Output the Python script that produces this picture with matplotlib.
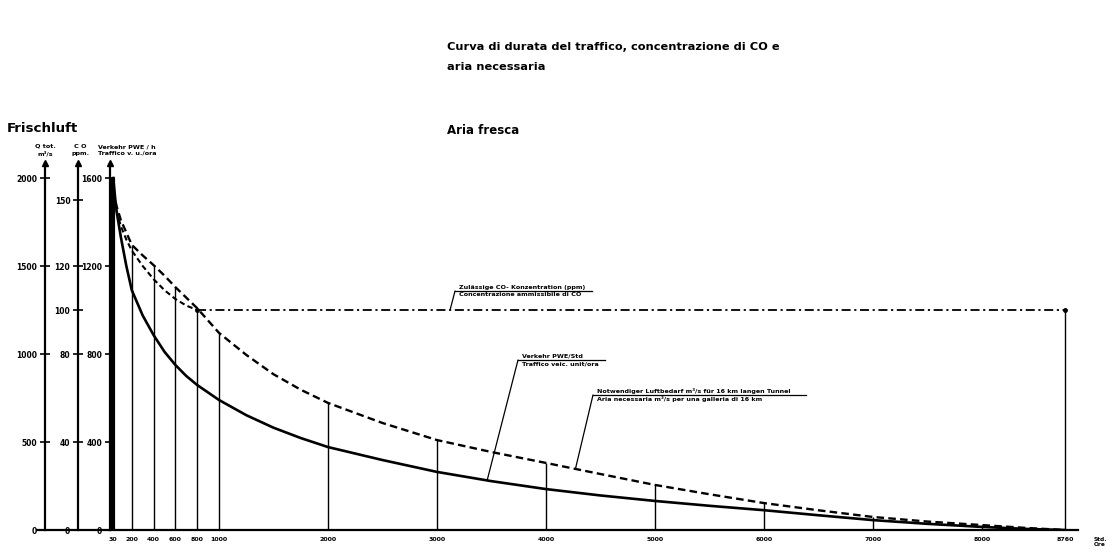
import matplotlib.pyplot as plt
import numpy as np
from matplotlib.lines import Line2D
from matplotlib.patches import ConnectionPatch

plt.rcParams['font.family'] = ['DejaVu Sans']
plt.rcParams['font.weight'] = 'bold'

# Traffic duration curve (vehicle units per hour)
hours_traffic = [30, 45, 60, 100, 150, 200, 300, 400, 500, 600, 700, 800, 1000,
                 1250, 1500, 1750, 2000, 2500, 3000, 3500, 4000, 4500, 5000,
                 5500, 6000, 6500, 7000, 7500, 8000, 8400, 8760]
traffic = [1600, 1520, 1450, 1330, 1200, 1090, 975, 886, 810, 750, 700, 659, 591,
           522, 465, 418, 377, 318, 264, 222, 186, 157, 132,
           110, 90, 67, 45, 28, 14, 5, 0]

# Fresh air needed, m3/s, for a 16 km tunnel
hours_air = [30, 60, 100, 150, 200, 300, 400, 500, 600, 700, 800, 900, 1000,
             1250, 1500, 1750, 2000, 2500, 3000, 3500, 4000, 4500, 5000,
             5500, 6000, 6500, 7000, 7500, 8000, 8400, 8760]
air = [1930, 1840, 1760, 1690, 1620, 1560, 1505, 1445, 1380, 1320, 1260, 1190, 1120,
       995, 885, 797, 722, 608, 511, 443, 381, 318, 256,
       203, 153, 112, 74, 48, 28, 12, 0]

# CO concentration (ppm) and permissible limit
hours_co = [-110, 30, 60, 100, 150, 200, 300, 400, 500, 600, 700, 800]
co = [150, 150, 145, 138, 132, 127, 120, 114, 109, 105, 102, 100]
hours_limit = [800, 8760]
co_limit = [100, 100]

hours_drop = [200, 400, 600, 800, 1000, 2000, 3000, 4000, 5000, 6000, 7000, 8000]
x_ticks = [30, 200, 400, 600, 800, 1000, 2000, 3000, 4000, 5000, 6000, 7000, 8000, 8760]
traffic_ticks = [0, 400, 800, 1200, 1600]
co_ticks = [0, 40, 80, 100, 120, 150]
air_ticks = [0, 500, 1000, 1500, 2000]

W, H = 1116, 556
fig = plt.figure(figsize=(W / 100, H / 100), dpi=100)

# axes box in pixels of the picture
left, right, top, bottom = 110, 1078, 163, 530
ax = fig.add_axes([left / W, 1 - bottom / H, (right - left) / W, (bottom - top) / H])
ax.patch.set_visible(False)
x_max = (right - left) / 0.109
y_max = (bottom - top) / 0.22
ax.set_xlim(0, x_max)
ax.set_ylim(0, y_max)

ax_co = ax.twinx()
ax_air = ax.twinx()
ax_co.set_ylim(0, y_max / 10)
ax_air.set_ylim(0, y_max * 1.25)

pos_co = (78 - left) / (right - left)
pos_air = (45 - left) / (right - left)

for a in (ax, ax_co, ax_air):
    for s in ('top', 'right'):
        a.spines[s].set_visible(False)
    a.spines['left'].set_linewidth(1.6)
for a, p in ((ax_co, pos_co), (ax_air, pos_air)):
    a.spines['left'].set_visible(True)
    a.spines['left'].set_position(('axes', p))
    a.spines['bottom'].set_visible(False)
    a.yaxis.set_ticks_position('left')
ax.spines['bottom'].set_linewidth(1.6)

ax.set_yticks(traffic_ticks)
ax_co.set_yticks(co_ticks)
ax_air.set_yticks(air_ticks)
for a in (ax, ax_co, ax_air):
    a.tick_params(axis='y', direction='inout', length=7, width=1.2, pad=2,
                  labelsize=5.5)
ax.set_xticks(x_ticks)
ax.tick_params(axis='x', length=0, pad=5, labelsize=4.5)

# baseline continues through the left scales, arrows on top of each scale
ax.plot([pos_air - 0.008, 0], [0, 0], color='black', lw=1.6,
        transform=ax.transAxes, clip_on=False)
for p in (0, pos_co, pos_air):
    ax.plot(p, 1, marker='^', color='black', markersize=4,
            transform=ax.transAxes, clip_on=False)

# curves
ax.plot(hours_traffic, traffic, color='black', lw=1.9)
ax_air.plot(hours_air, air, color='black', lw=1.7, linestyle=(0, (3.2, 1.8)))
ax_co.plot(hours_co, co, color='black', lw=1.5, linestyle=(0, (2.6, 1.6)))
ax_co.plot(hours_limit, co_limit, color='black', lw=1.3,
           linestyle=(0, (5, 2, 1.2, 2)), marker='o', markersize=2.5)

# drop lines
air_at = dict(zip(hours_air, air))
ax_air.vlines(hours_drop, 0, [air_at[h] for h in hours_drop], color='black', lw=1.0)
ax.vlines(hours_traffic[0], 0, traffic[0], color='black', lw=3.0)
ax_co.vlines(hours_limit[-1], 0, co_limit[-1], color='black', lw=1.0)

# titles
fig.text(447 / W, 1 - 47 / H, 'Curva di durata del traffico, concentrazione di CO e',
         fontsize=8.2, va='center')
fig.text(447 / W, 1 - 67 / H, 'aria necessaria', fontsize=8.2, va='center')
fig.text(7 / W, 1 - 128 / H, 'Frischluft', fontsize=9.6, va='center')
fig.text(447 / W, 1 - 130 / H, 'Aria fresca', fontsize=8.5, va='center')

# scale headers
fig.text(45 / W, 1 - 150 / H, 'Q tot.\nm³/s', fontsize=4.6, ha='center', va='center',
         linespacing=1.4)
fig.text(80 / W, 1 - 150 / H, 'C O\nppm.', fontsize=4.6, ha='center', va='center',
         linespacing=1.4)
fig.text(98 / W, 1 - 150 / H, 'Verkehr PWE / h\nTraffico v. u./ora', fontsize=4.6,
         ha='left', va='center', linespacing=1.4)
fig.text(1094 / W, 1 - 542 / H, 'Std.\nOre', fontsize=4.2, ha='left', va='center',
         linespacing=1.2)


def callout(x0, x1, y, lines, xy, target):
    # underlined two-line label with leader to a curve
    fig.text((x0 + 4) / W, 1 - (y - 1) / H, lines[0], fontsize=4.6, va='bottom')
    fig.text((x0 + 4) / W, 1 - (y + 1) / H, lines[1], fontsize=4.6, va='top')
    fig.add_artist(Line2D([x0 / W, x1 / W], [1 - y / H, 1 - y / H], color='black',
                          lw=0.9, transform=fig.transFigure))
    fig.add_artist(ConnectionPatch(xyA=(x0 / W, 1 - y / H), coordsA=fig.transFigure,
                                   xyB=xy, coordsB=target.transData, lw=0.9,
                                   color='black'))


callout(455, 592, 291, ['Zulässige CO- Konzentration (ppm)',
                        'Concentrazione ammissibile di CO'], (3120, 100), ax_co)
h1 = 3460
callout(518, 605, 360, ['Verkehr PWE/Std', 'Traffico veic. unit/ora'],
        (h1, np.interp(h1, hours_traffic, traffic)), ax)
h2 = 4270
callout(593, 806, 395, ['Notwendiger Luftbedarf m³/s für 16 km langen Tunnel',
                        'Aria necessaria m³/s per una galleria di 16 km'],
        (h2, np.interp(h2, hours_air, air)), ax_air)

fig.savefig('out.png', dpi=100)
